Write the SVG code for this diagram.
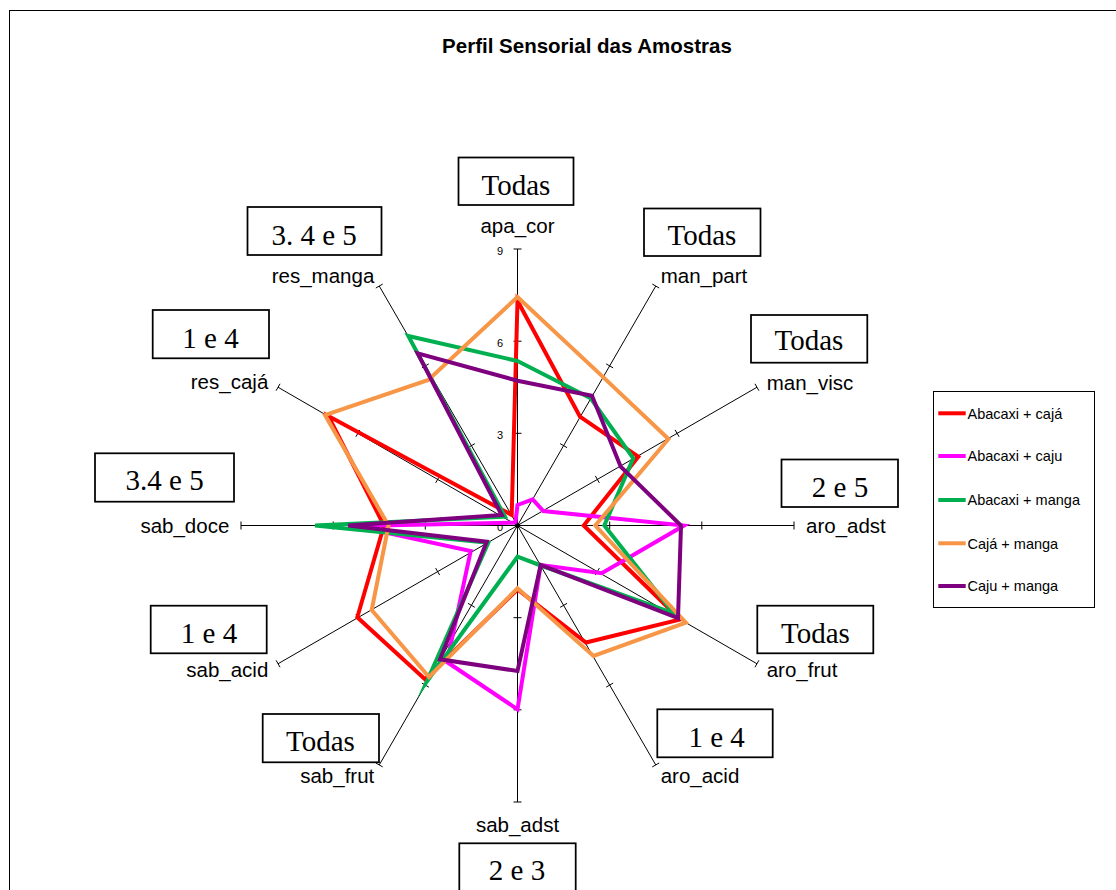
<svg xmlns="http://www.w3.org/2000/svg" width="1116" height="890" viewBox="0 0 1116 890">
<style>
.frame{fill:#fff;stroke:#000;stroke-width:1}
.axis{stroke:#000;stroke-width:1;fill:none}
.lab{font-family:"Liberation Sans",Arial,sans-serif;font-size:20.5px;fill:#000}
.num{font-family:"Liberation Sans",Arial,sans-serif;font-size:11px;fill:#000;stroke:none;text-anchor:end}
.box rect{fill:#fff;stroke:#000;stroke-width:1.75}
.box text{font-family:"Liberation Serif","Times New Roman",serif;font-size:29px;fill:#000;text-anchor:middle}
.ser{fill:none;stroke-width:4;stroke-linejoin:miter;stroke-miterlimit:10}
.leg{font-family:"Liberation Sans",Arial,sans-serif;font-size:14.5px;fill:#000}
.title{font-family:"Liberation Sans",Arial,sans-serif;font-size:20.5px;font-weight:bold;fill:#000;text-anchor:middle}
</style>
<rect x="0" y="0" width="1116" height="890" fill="#fff"/>
<rect class="frame" x="9.5" y="10.5" width="1120" height="900"/>
<text class="title" x="587" y="53">Perfil Sensorial das Amostras</text>

<g id="axes">
<path class="axis" d="M517.5 525.5L517.5 249M517.5 525.5L655.75 286.05M517.5 525.5L756.95 387.25M517.5 525.5L794 525.5M517.5 525.5L756.95 663.75M517.5 525.5L655.75 764.95M517.5 525.5L517.5 802M517.5 525.5L379.25 764.95M517.5 525.5L278.05 663.75M517.5 525.5L241 525.5M517.5 525.5L278.05 387.25M517.5 525.5L379.25 286.05"/>
<path class="axis" d="M513.5 433.3H521.5M513.5 341.2H521.5M513.5 249H521.5
M560.14 443.65L567.06 447.65M606.19 363.9L613.11 367.9M652.29 284.05L659.21 288.05
M595.35 475.94L599.35 482.86M675.1 429.89L679.1 436.81M754.95 383.79L758.95 390.71
M609.7 521.5V529.5M701.8 521.5V529.5M794 521.5V529.5
M599.35 568.14L595.35 575.06M679.1 614.19L675.1 621.11M758.95 660.29L754.95 667.21
M567.06 603.35L560.14 607.35M613.11 683.1L606.19 687.1M659.21 762.95L652.29 766.95
M513.5 617.7H521.5M513.5 709.8H521.5M513.5 802H521.5
M474.86 607.35L467.94 603.35M428.81 687.1L421.89 683.1M382.71 766.95L375.79 762.95
M439.65 575.06L435.65 568.14M359.9 621.11L355.9 614.19M280.05 667.21L276.05 660.29
M425.3 521.5V529.5M333.2 521.5V529.5M241 521.5V529.5
M439.65 475.94L435.65 482.86M359.9 429.89L355.9 436.81M280.05 383.79L276.05 390.71
M474.86 443.65L467.94 447.65M428.81 363.9L421.89 367.9M382.71 284.05L375.79 288.05"/>
<circle cx="517.5" cy="525.5" r="2.5" fill="#000"/>
<text class="num" x="503" y="531">0</text>
<text class="num" x="503" y="439">3</text>
<text class="num" x="503" y="347">6</text>
<text class="num" x="503" y="254.5">9</text>
</g>

<g id="series">
<polygon class="ser" stroke="#FF0000" points="517.5,300.7 580,416.7 638.3,456.7 583.7,525.5 680.3,619.5 586,642.5 517.5,589.5 425,679.3 357.3,617.3 384,525.5 328.3,416 511.7,515"/>
<polygon class="ser" stroke="#FF00FF" points="517.5,505 532.7,499.3 543.3,511 684,525.5 623.3,560.7 601.7,573.3 540.7,565 517.5,709.3 447,662 470.7,551 355,526 513.3,522.7 515.5,522"/>
<polygon class="ser" stroke="#00B050" points="517.5,361 590.7,398.3 633.3,458.3 604.3,525.5 673.7,613.3 539.5,565 517.5,556.7 426.7,681.7 488.3,542.7 315,525.5 505,516.7 408.3,336"/>
<polygon class="ser" stroke="#F79646" points="517.5,297 603.2,377.1 668.5,439 595.3,525.5 685.8,622.7 593.5,656 517.5,588.3 429,677 371.7,610 388.5,525.5 325,415 428.3,380"/>
<polygon class="ser" stroke="#7F007F" points="517.5,380.7 592,395.7 620.7,466.7 681,525.5 678,618 540.7,565 517.5,671 440,659.3 486.7,541.7 348.3,525.5 501.7,515 417.7,353.3"/>
</g>

<g id="axis-labels">
<text class="lab" x="517.5" y="233.3" text-anchor="middle">apa_cor</text>
<text class="lab" x="660.7" y="283.3">man_part</text>
<text class="lab" x="766.7" y="390">man_visc</text>
<text class="lab" x="806" y="532.7">aro_adst</text>
<text class="lab" x="766.7" y="676.7">aro_frut</text>
<text class="lab" x="660.7" y="782.7">aro_acid</text>
<text class="lab" x="517.5" y="831.7" text-anchor="middle">sab_adst</text>
<text class="lab" x="374.3" y="782.7" text-anchor="end">sab_frut</text>
<text class="lab" x="268.3" y="676.7" text-anchor="end">sab_acid</text>
<text class="lab" x="229.3" y="532.7" text-anchor="end">sab_doce</text>
<text class="lab" x="268.3" y="389.3" text-anchor="end">res_cajá</text>
<text class="lab" x="374.3" y="283.3" text-anchor="end">res_manga</text>
</g>

<g id="box-apa_cor" class="box"><rect x="458.5" y="157.5" width="115" height="47.5"/><text x="516" y="195">Todas</text></g>
<g id="box-res_manga" class="box"><rect x="247.5" y="207" width="134" height="48"/><text x="314.2" y="245">3. 4 e 5</text></g>
<g id="box-man_part" class="box"><rect x="644" y="208.5" width="116.5" height="47.5"/><text x="702" y="245">Todas</text></g>
<g id="box-res_caja" class="box"><rect x="152.7" y="310" width="116.3" height="48.3"/><text x="210.5" y="347.7">1 e 4</text></g>
<g id="box-man_visc" class="box"><rect x="751" y="315" width="116.3" height="47.7"/><text x="809" y="350">Todas</text></g>
<g id="box-sab_doce" class="box"><rect x="95" y="453.3" width="139" height="48.4"/><text x="164.6" y="490">3.4 e 5</text></g>
<g id="box-aro_adst" class="box"><rect x="781.5" y="459.5" width="116.5" height="47.5"/><text x="840" y="496.5">2 e 5</text></g>
<g id="box-sab_acid" class="box"><rect x="150.7" y="605.7" width="116" height="47.6"/><text x="209" y="643.3">1 e 4</text></g>
<g id="box-aro_frut" class="box"><rect x="757.3" y="605.7" width="116" height="47.6"/><text x="815.5" y="642.7">Todas</text></g>
<g id="box-aro_acid" class="box"><rect x="657.3" y="709.3" width="115.4" height="48"/><text x="716.7" y="746.7">1 e 4</text></g>
<g id="box-sab_frut" class="box"><rect x="262.7" y="714" width="116.3" height="48.3"/><text x="320.5" y="750.7">Todas</text></g>
<g id="box-sab_adst" class="box"><rect x="459.3" y="843.3" width="116.4" height="60"/><text x="517" y="880">2 e 3</text></g>

<g id="legend">
<rect x="933.5" y="391.5" width="161" height="216" fill="#fff" stroke="#000" stroke-width="1"/>
<g stroke-width="4">
<line x1="938.3" y1="413.3" x2="965.7" y2="413.3" stroke="#FF0000"/>
<line x1="938.3" y1="456" x2="965.7" y2="456" stroke="#FF00FF"/>
<line x1="938.3" y1="500" x2="965.7" y2="500" stroke="#00B050"/>
<line x1="938.3" y1="543.3" x2="965.7" y2="543.3" stroke="#F79646"/>
<line x1="938.3" y1="586" x2="965.7" y2="586" stroke="#7F007F"/>
</g>
<text class="leg" x="967.5" y="418.5">Abacaxi + cajá</text>
<text class="leg" x="967.5" y="461.2">Abacaxi + caju</text>
<text class="leg" x="967.5" y="505.2">Abacaxi + manga</text>
<text class="leg" x="967.5" y="548.5">Cajá + manga</text>
<text class="leg" x="967.5" y="591.2">Caju + manga</text>
</g>
</svg>
